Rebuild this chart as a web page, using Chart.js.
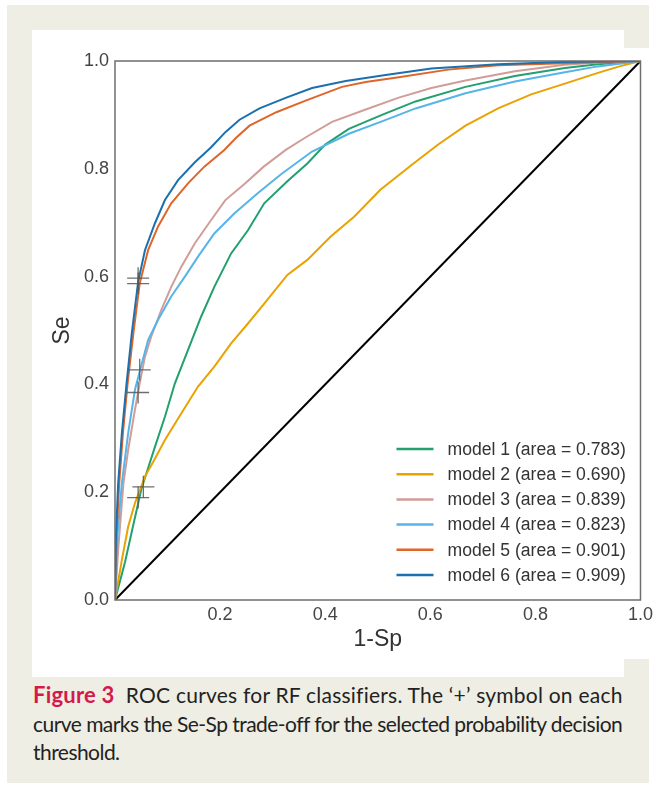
<!DOCTYPE html>
<html>
<head>
<meta charset="utf-8">
<script src="https://cdn.jsdelivr.net/npm/chart.js@4.4.0/dist/chart.umd.min.js"></script>
<style>
  html, body { margin: 0; padding: 0; background: #fff; }
  body { width: 657px; height: 788px; position: relative; overflow: hidden; }
  .beige { position: absolute; left: 7px; top: 5px; width: 642px; height: 778px; background: #efeee4; }
  .white1 { position: absolute; left: 32px; top: 30px; width: 592px; height: 647px; background: #fff; }
  .white2 { position: absolute; left: 624px; top: 48px; width: 33px; height: 611px; background: #fff; }
  #wrap { position: absolute; left: 32px; top: 30px; width: 625px; height: 647px; }
  .caption { position: absolute; left: 33px; top: 681px; font-family: Lato, "Open Sans", sans-serif;
    font-size: 21px; line-height: 28.5px; color: #222; white-space: nowrap; }
  .caption .ln { display: block; }
  .caption .ln span.t { display: inline-block; }
  .caption b { color: #d41a4c; font-weight: 700; font-size: 22px; }
</style>
</head>
<body>
<div class="beige"></div>
<div class="white1"></div>
<div class="white2"></div>
<div id="wrap"><canvas id="roc" width="625" height="647"></canvas></div>
<div class="caption">
  <div class="ln"><span class="t" data-w="589"><b>Figure 3</b>&nbsp; ROC curves for RF classifiers. The ‘+’ symbol on each</span></div>
  <div class="ln"><span class="t" data-w="589">curve marks the Se-Sp trade-off for the selected probability decision</span></div>
  <div class="ln"><span class="t">threshold.</span></div>
</div>

<script>
// curves (x = 1-Sp, y = Se)
var m1x = [0, 0.019, 0.035, 0.05, 0.063, 0.076, 0.095, 0.114, 0.139, 0.164, 0.189, 0.221, 0.253, 0.284, 0.328, 0.366, 0.40, 0.445, 0.508, 0.572, 0.667, 0.761, 0.856, 0.919, 1];
var m1y = [0, 0.07, 0.14, 0.205, 0.245, 0.284, 0.34, 0.402, 0.464, 0.526, 0.581, 0.643, 0.686, 0.736, 0.777, 0.81, 0.845, 0.874, 0.9, 0.925, 0.952, 0.972, 0.987, 0.994, 1];

var m2x = [0, 0.013, 0.025, 0.038, 0.057, 0.076, 0.095, 0.126, 0.158, 0.189, 0.221, 0.253, 0.284, 0.328, 0.366, 0.41, 0.455, 0.505, 0.568, 0.615, 0.667, 0.729, 0.792, 0.856, 0.919, 0.96, 1];
var m2y = [0, 0.074, 0.136, 0.18, 0.229, 0.262, 0.297, 0.346, 0.396, 0.433, 0.476, 0.513, 0.55, 0.603, 0.631, 0.674, 0.711, 0.761, 0.81, 0.845, 0.88, 0.912, 0.938, 0.958, 0.978, 0.99, 1];

var m3x = [0, 0.006, 0.016, 0.025, 0.038, 0.047, 0.057, 0.069, 0.088, 0.107, 0.126, 0.152, 0.183, 0.21, 0.248, 0.283, 0.325, 0.364, 0.413, 0.477, 0.54, 0.602, 0.667, 0.761, 0.856, 0.919, 1];
var m3y = [0, 0.093, 0.216, 0.278, 0.353, 0.402, 0.451, 0.489, 0.538, 0.581, 0.618, 0.662, 0.705, 0.742, 0.773, 0.804, 0.835, 0.859, 0.887, 0.91, 0.932, 0.95, 0.964, 0.981, 0.993, 0.997, 1];

var m4x = [0, 0.005, 0.013, 0.025, 0.038, 0.05, 0.063, 0.082, 0.107, 0.133, 0.158, 0.189, 0.227, 0.271, 0.316, 0.375, 0.445, 0.508, 0.572, 0.667, 0.761, 0.856, 0.919, 1];
var m4y = [0, 0.124, 0.216, 0.309, 0.39, 0.435, 0.482, 0.52, 0.563, 0.6, 0.637, 0.68, 0.717, 0.754, 0.79, 0.832, 0.865, 0.888, 0.912, 0.94, 0.962, 0.979, 0.99, 1];

var m5x = [0, 0.003, 0.008, 0.015, 0.024, 0.035, 0.047, 0.063, 0.082, 0.107, 0.139, 0.17, 0.208, 0.23, 0.256, 0.307, 0.364, 0.432, 0.477, 0.54, 0.634, 0.729, 0.855, 1];
var m5y = [0, 0.124, 0.216, 0.309, 0.402, 0.495, 0.587, 0.649, 0.693, 0.736, 0.773, 0.804, 0.835, 0.857, 0.88, 0.905, 0.927, 0.952, 0.961, 0.97, 0.984, 0.992, 0.996, 1];

var m6x = [0, 0.002, 0.006, 0.013, 0.022, 0.032, 0.044, 0.057, 0.076, 0.095, 0.12, 0.152, 0.183, 0.21, 0.237, 0.275, 0.326, 0.375, 0.439, 0.515, 0.602, 0.729, 0.85, 1];
var m6y = [0, 0.124, 0.216, 0.309, 0.402, 0.495, 0.59, 0.649, 0.699, 0.742, 0.779, 0.812, 0.84, 0.868, 0.891, 0.912, 0.932, 0.95, 0.963, 0.974, 0.986, 0.994, 0.998, 1];

// '+' operating points
var opX = [0.044, 0.044, 0.047, 0.044, 0.054, 0.044];
var opY = [0.597, 0.587, 0.427, 0.385, 0.21, 0.19];

var chanceX = [0, 1];
var chanceY = [0, 1];

var labels = ['model 1 (area = 0.783)', 'model 2 (area = 0.690)', 'model 3 (area = 0.839)',
              'model 4 (area = 0.823)', 'model 5 (area = 0.901)', 'model 6 (area = 0.909)'];
var colors = ['#22a06e', '#e9a300', '#d19d99', '#56b4e9', '#e0652a', '#1b70ae'];
var xTicks = [0, 0.2, 0.4, 0.6, 0.8, 1.0];

function pts(xs, ys) {
    return xs.map(function(x, i){ return {x: x, y: ys[i]}; });
}

var curves = [[m1x, m1y], [m2x, m2y], [m3x, m3y], [m4x, m4y], [m5x, m5y], [m6x, m6y]];
var datasets = curves.map(function(c, i){
    return {
        label: labels[i],
        data: pts(c[0], c[1]),
        showLine: true,
        borderColor: colors[i],
        borderWidth: 2,
        pointRadius: 0,
        tension: 0,
        order: 6 - i,
        inLegend: true
    };
});
datasets.push({
    label: 'chance',
    data: pts(chanceX, chanceY),
    showLine: true,
    borderColor: '#000',
    borderWidth: 2,
    pointRadius: 0,
    order: 7
});
datasets.push({
    label: 'threshold',
    data: pts(opX, opY),
    showLine: false,
    pointStyle: 'cross',
    pointRadius: 11,
    borderWidth: 1.3,
    borderColor: 'rgba(85,85,85,0.85)',
    order: 0
});

var framePlugin = {
    id: 'frame',
    afterDraw: function(chart){
        var a = chart.chartArea, ctx = chart.ctx;
        ctx.save();
        ctx.strokeStyle = '#6e6e6e';
        ctx.lineWidth = 1.5;
        ctx.strokeRect(a.left, a.top, a.right - a.left, a.bottom - a.top);
        ctx.restore();
    }
};

var legendPlugin = {
    id: 'innerLegend',
    afterDatasetsDraw: function(chart){
        var a = chart.chartArea, ctx = chart.ctx;
        var items = chart.data.datasets.filter(function(d){ return d.inLegend; });
        var x0 = a.right - 244, y0 = a.bottom - 151, step = 25.2;
        ctx.save();
        ctx.font = '17.6px "Liberation Sans", Arial, sans-serif';
        ctx.textBaseline = 'middle';
        items.forEach(function(d, i){
            var y = y0 + i * step;
            ctx.strokeStyle = d.borderColor;
            ctx.lineWidth = 2.5;
            ctx.beginPath();
            ctx.moveTo(x0, y);
            ctx.lineTo(x0 + 37, y);
            ctx.stroke();
            ctx.fillStyle = '#333';
            ctx.fillText(d.label, x0 + 51, y + 1);
        });
        ctx.restore();
    }
};

Chart.defaults.font.family = '"Liberation Sans", Arial, sans-serif';

new Chart(document.getElementById('roc'), {
    type: 'scatter',
    data: { datasets: datasets },
    options: {
        responsive: false,
        animation: false,
        devicePixelRatio: 1,
        layout: { padding: { left: 0, top: 31, right: 14, bottom: 0 } },
        plugins: { legend: { display: false }, tooltip: { enabled: false } },
        scales: {
            x: {
                type: 'linear', min: 0, max: 1,
                afterBuildTicks: function(s){ s.ticks = xTicks.map(function(v){ return {value: v}; }); },
                afterFit: function(s){ s.height = 77; },
                grid: { display: false, drawTicks: false },
                border: { display: false },
                ticks: {
                    padding: 4, color: '#444', font: { size: 18 },
                    callback: function(v){ return v === 0 ? '' : v.toFixed(1); }
                },
                title: { display: true, text: '1-Sp', color: '#333', font: { size: 23 }, padding: { top: 0, bottom: 24 } }
            },
            y: {
                type: 'linear', min: 0, max: 1,
                afterBuildTicks: function(s){ s.ticks = xTicks.map(function(v){ return {value: v}; }); },
                afterFit: function(s){ s.width = 83; },
                grid: { display: false, drawTicks: false },
                border: { display: false },
                ticks: {
                    padding: 6, color: '#444', font: { size: 18 },
                    callback: function(v){ return v.toFixed(1); }
                },
                title: { display: true, text: 'Se', color: '#333', font: { size: 23 }, padding: { top: 17, bottom: 0 } }
            }
        }
    },
    plugins: [framePlugin, legendPlugin]
});

// squeeze caption lines to the printed width
var fitLines = function(){
    var spans = document.querySelectorAll('.caption .t');
    var last = 0;
    spans.forEach(function(s){
        var target = s.getAttribute('data-w');
        var n = s.textContent.length;
        if (target) {
            s.style.letterSpacing = '0px';
            var w = s.getBoundingClientRect().width;
            last = (Number(target) - w) / (n - 1);
        }
        s.style.letterSpacing = last + 'px';
    });
};
fitLines();
if (document.fonts && document.fonts.ready) document.fonts.ready.then(fitLines);
</script>
</body>
</html>
